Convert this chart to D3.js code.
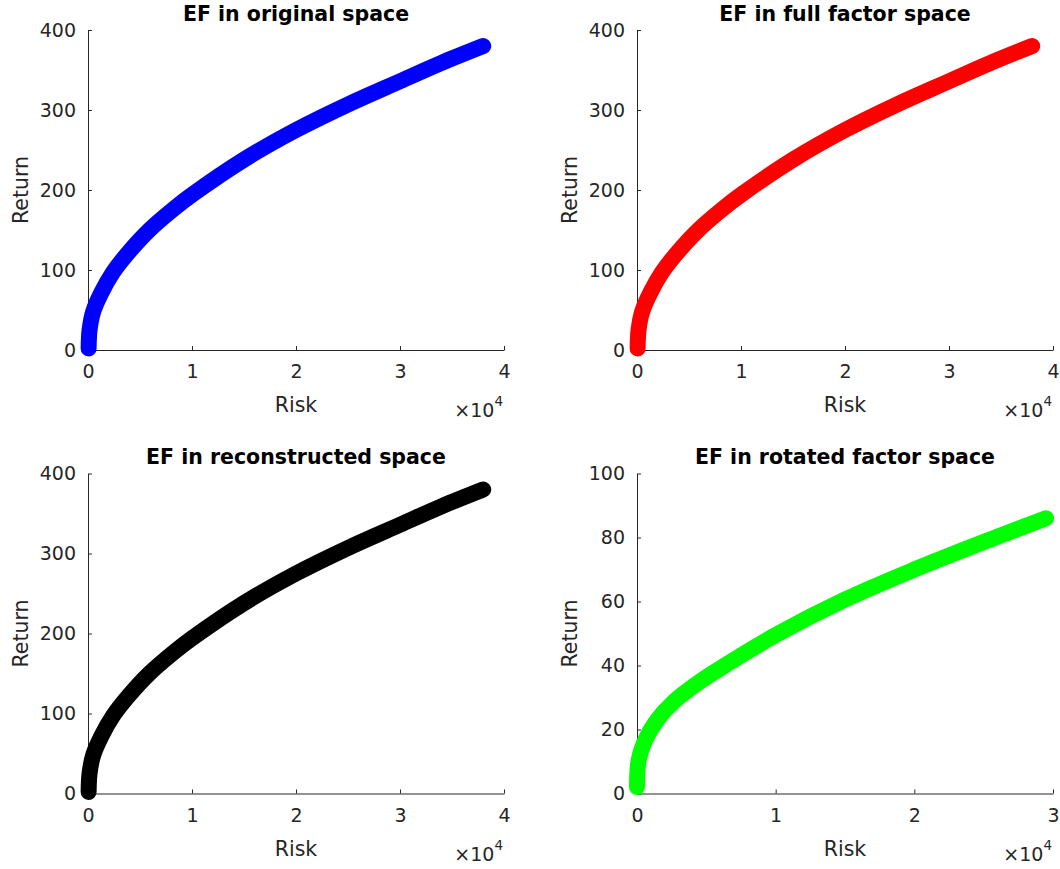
<!DOCTYPE html>
<html>
<head>
<meta charset="utf-8">
<script src="https://cdnjs.cloudflare.com/ajax/libs/d3/7.8.5/d3.min.js"></script>
<style>
  body { margin: 0; background: #fff; }
  text { font-family: "DejaVu Sans", sans-serif; fill: #262626; }
</style>
</head>
<body>
<div id="chart"></div>
<script>
// efficient frontier (risk = variance, return)
var riskEF = [60, 150, 500, 1300, 2400, 3900, 5900, 8300, 10000, 15000, 20000, 25000, 30000, 34000, 38000]
var returnEF = [2, 25, 48, 72, 97, 122, 150, 177, 194, 238, 275, 307, 336, 359, 380]

// rotated factor space frontier
var riskRot = [0, 120, 600, 1440, 2630, 4310, 6710, 10000, 15000, 20000, 25000, 29500]
var returnRot = [2, 10.4, 16.7, 22.9, 28.6, 34.3, 41, 49.5, 60.6, 70, 78.6, 86]

var titles = ["EF in original space", "EF in full factor space", "EF in reconstructed space", "EF in rotated factor space"]
var colors = ["#0000ff", "#ff0000", "#000000", "#00ff00"]
var xTicks = [[0, 10000, 20000, 30000, 40000], [0, 10000, 20000, 30000, 40000], [0, 10000, 20000, 30000, 40000], [0, 10000, 20000, 30000]]
var yTicks = [[0, 100, 200, 300, 400], [0, 100, 200, 300, 400], [0, 100, 200, 300, 400], [0, 20, 40, 60, 80, 100]]

var width = 1060,
  height = 869

var lefts = [88, 637, 88, 637],
  tops = [30, 30, 473.5, 473.5],
  pw = 416,
  ph = 320

var svg = d3.select("#chart").append("svg")
  .attr("width", width)
  .attr("height", height)

titles.forEach((title, i) => {
  var rx = i == 3 ? riskRot : riskEF
  var ry = i == 3 ? returnRot : returnEF
  var xt = xTicks[i], yt = yTicks[i]

  var x = d3.scaleLinear()
    .domain([0, xt[xt.length - 1]])
    .range([0, pw])
  var y = d3.scaleLinear()
    .domain([0, yt[yt.length - 1]])
    .range([ph, 0])

  var g = svg.append("g")
    .attr("transform", `translate(${lefts[i]},${tops[i]})`)

  // axes, ticks pointing inward like matlab
  g.append("g")
    .attr("transform", `translate(0,${ph})`)
    .call(d3.axisBottom(x).tickValues(xt).tickFormat(d => d / 10000)
      .tickSizeInner(-4).tickSizeOuter(0).tickPadding(15))
  g.append("g")
    .call(d3.axisLeft(y).tickValues(yt)
      .tickSizeInner(-4).tickSizeOuter(0).tickPadding(12))

  g.selectAll(".domain, .tick line").attr("stroke", "#262626")
  g.selectAll(".tick text")
    .attr("fill", "#262626")
    .style("font-size", "19px")
    .style("font-family", '"DejaVu Sans", sans-serif')

  g.append("text")
    .attr("x", pw / 2)
    .attr("y", -9.5)
    .attr("text-anchor", "middle")
    .style("font-size", "20.5px")
    .style("font-weight", "bold")
    .style("fill", "#000")
    .text(title)

  g.append("text")
    .attr("x", pw / 2)
    .attr("y", ph + 62)
    .attr("text-anchor", "middle")
    .style("font-size", "20.5px")
    .text("Risk")

  g.append("text")
    .attr("transform", `translate(-60,${ph / 2}) rotate(-90)`)
    .attr("text-anchor", "middle")
    .style("font-size", "20.5px")
    .text("Return")

  var exp = g.append("text")
    .attr("x", x(xt[xt.length - 1]) - 1)
    .attr("y", ph + 67)
    .attr("text-anchor", "end")
    .style("font-size", "19px")
  exp.append("tspan").text("\u00d710")
  exp.append("tspan").attr("dy", -11).style("font-size", "13.5px").text("4")

  var line = d3.line()
    .x((d, k) => x(rx[k]))
    .y((d, k) => y(ry[k]))
    .curve(d3.curveCatmullRom.alpha(0.5))

  g.append("path")
    .datum(rx)
    .attr("d", line)
    .attr("fill", "none")
    .attr("stroke", colors[i])
    .attr("stroke-width", 16)
    .attr("stroke-linecap", "round")
    .attr("stroke-linejoin", "round")
})
</script>
</body>
</html>
